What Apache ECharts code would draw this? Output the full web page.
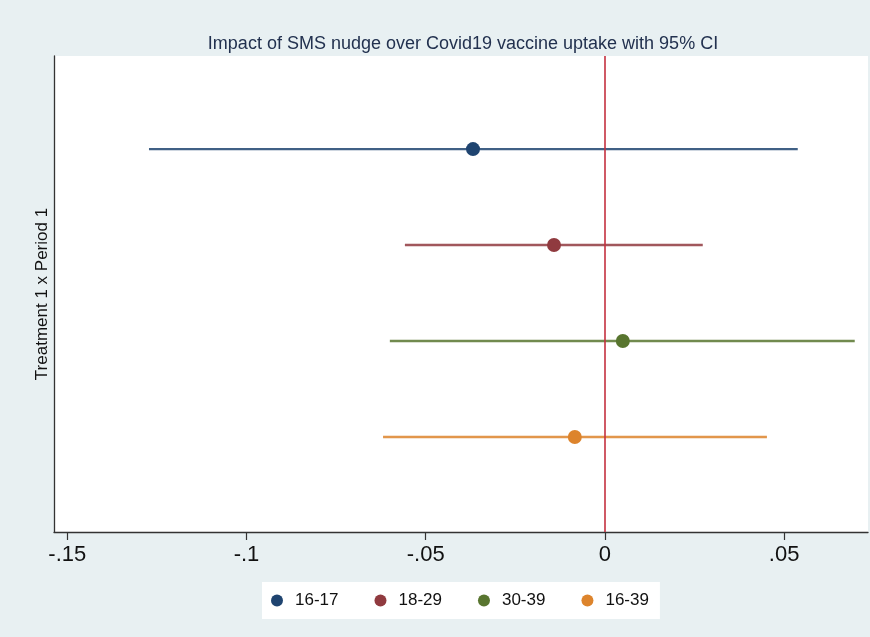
<!DOCTYPE html>
<html>
<head>
<meta charset="utf-8">
<script src="https://cdn.jsdelivr.net/npm/echarts@6/dist/echarts.min.js"></script>
<style>
html,body{margin:0;padding:0;background:#e8f0f2;}
#chart{width:870px;height:637px;}
</style>
</head>
<body>
<div id="chart"></div>
<script>
const categories = ['16-17', '18-29', '30-39', '16-39'];
const estimates = [-0.0368, -0.0142, 0.0050, -0.0084];
const ciLow = [-0.1272, -0.0558, -0.0600, -0.0619];
const ciHigh = [0.0538, 0.0273, 0.0697, 0.0452];
const rowPositions = [1, 2, 3, 4];
const xTicks = [-0.15, -0.1, -0.05, 0, 0.05];
const xTickLabels = ['-.15', '-.1', '-.05', '0', '.05'];
const titleText = 'Impact of SMS nudge over Covid19 vaccine uptake with 95% CI';
const yAxisTitle = 'Treatment 1 x Period 1';

const palette = ['#1f4470', '#903a3f', '#58752f', '#dd842c'];
const FONT = '"Liberation Sans", Arial, sans-serif';

const chart = echarts.init(document.getElementById('chart'));

const series = [];
categories.forEach((name, i) => {
  series.push({
    name: name,
    type: 'line',
    data: [[ciLow[i], rowPositions[i]], [ciHigh[i], rowPositions[i]]],
    symbol: 'none',
    lineStyle: { color: palette[i], width: 2.4, opacity: 0.85 },
    itemStyle: { color: palette[i] },
    z: 2,
    silent: true,
    animation: false
  });
});
categories.forEach((name, i) => {
  series.push({
    name: name,
    type: 'scatter',
    data: [[estimates[i], rowPositions[i]]],
    symbol: 'circle',
    symbolSize: 14,
    itemStyle: { color: palette[i], opacity: 1 },
    z: 4,
    animation: false
  });
});
series.push({
  name: '__zero',
  type: 'line',
  data: [],
  markLine: {
    silent: true,
    symbol: 'none',
    label: { show: false },
    lineStyle: { color: '#c4303f', width: 1.6, type: 'solid' },
    data: [{ xAxis: 0 }],
    animation: false
  },
  z: 3
});

chart.setOption({
  backgroundColor: '#e8f0f2',
  animation: false,
  title: {
    text: titleText,
    left: 458,
    textAlign: 'center',
    top: 30,
    textStyle: { fontFamily: FONT, fontSize: 18, fontWeight: 'normal', color: '#22314f' }
  },
  grid: {
    left: 54, right: 2, top: 56, bottom: 105,
    show: true, backgroundColor: '#ffffff', borderWidth: 0
  },
  legend: {
    data: categories.map(n => ({ name: n, icon: 'circle' })),
    left: 262,
    top: 582,
    orient: 'horizontal',
    itemWidth: 12,
    itemHeight: 12,
    itemGap: 36,
    padding: [10, 11, 10, 9],
    backgroundColor: '#ffffff',
    textStyle: { fontFamily: FONT, fontSize: 17, color: '#111', padding: [0, 0, 0, 7] }
  },
  xAxis: {
    type: 'value',
    min: -0.1537,
    max: 0.0734,
    splitLine: { show: false },
    axisLine: { show: true, onZero: false, lineStyle: { color: '#333', width: 1.3 } },
    axisTick: { show: true, length: 8, lineStyle: { color: '#333', width: 1.2 }, customValues: xTicks },
    axisLabel: {
      customValues: xTicks,
      margin: 12,
      fontFamily: FONT, fontSize: 22, color: '#111',
      formatter: v => {
        const k = xTicks.findIndex(t => Math.abs(t - v) < 1e-9);
        return k >= 0 ? xTickLabels[k] : '';
      }
    }
  },
  yAxis: {
    type: 'value',
    min: 0.03,
    max: 4.99,
    inverse: true,
    name: yAxisTitle,
    nameLocation: 'middle',
    nameRotate: 90,
    nameGap: 3,
    nameTextStyle: { fontFamily: FONT, fontSize: 17, color: '#111' },
    splitLine: { show: false },
    axisLine: { show: true, onZero: false, lineStyle: { color: '#333', width: 1.3 } },
    axisTick: { show: false },
    axisLabel: { show: false }
  },
  series: series
});
</script>
</body>
</html>
